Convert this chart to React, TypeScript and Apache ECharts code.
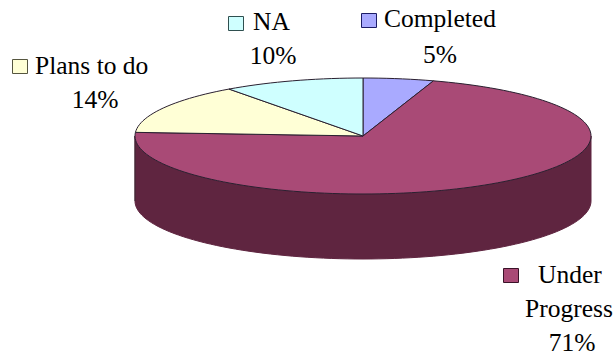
import React, { useEffect, useRef } from "react";
import * as echarts from "echarts";

// Project status breakdown, drawn as a tilted pie with a solid rim.
const categories = ["Completed", "Under Progress", "Plans to do", "NA"];
const values = [5, 71, 14, 10];
const topColors = ["#A9AAFF", "#A94A76", "#FFFFD6", "#CFFFFF"];
const rimColors = ["#55557F", "#5F2540", "#7F7F6B", "#67807F"];
const keyBorders = ["#1C1C66", "#3A1228", "#55553F", "#2F4F4F"];

// Tilted disc geometry, in pixels.
const CX = 363;
const CY = 136;
const RX = 228;
const RY = 58;
const DEPTH = 65;
const FONT = '"Liberation Serif", "Times New Roman", serif';
const FONT_SIZE = 25.5;

// Where each slice's key square and text lines sit.
const labelLayouts = [
  { key: [361, 13], lines: [[384, 18, "left"], [440, 54, "center"]] },
  { key: [503, 268], lines: [[538, 274, "left"], [569, 308, "center"], [572, 342, "center"]] },
  { key: [12, 59], lines: [[35, 65, "left"], [95, 99, "center"]] },
  { key: [228, 16], lines: [[253, 21, "left"], [273, 55, "center"]] },
];

const toRad = (d: number) => (d * Math.PI) / 180;
const topPoint = (deg: number, drop = 0): number[] => [
  CX + RX * Math.sin(toRad(deg)),
  CY - RY * Math.cos(toRad(deg)) + drop,
];

function arcPoints(from: number, to: number, drop = 0): number[][] {
  const steps = Math.max(2, Math.ceil((to - from) / 2));
  const pts: number[][] = [];
  for (let i = 0; i <= steps; i++) pts.push(topPoint(from + ((to - from) * i) / steps, drop));
  return pts;
}

function textLines(index: number): string[] {
  const words = categories[index] === "Under Progress" ? categories[index].split(" ") : [categories[index]];
  return [...words, `${values[index]}%`];
}

function renderSlice(params: any, api: any) {
  const i = params.dataIndex;
  const total = values.reduce((a, b) => a + b, 0);
  const before = values.slice(0, i).reduce((a, b) => a + b, 0);
  const start = (before / total) * 360;
  const end = start + (api.value(0) / total) * 360;
  const children: any[] = [];

  // The rim is only visible along the near half of the disc.
  const rimFrom = Math.max(start, 90);
  const rimTo = Math.min(end, 270);
  if (rimTo > rimFrom) {
    children.push({
      type: "polygon",
      shape: { points: [...arcPoints(rimFrom, rimTo), ...arcPoints(rimFrom, rimTo, DEPTH).reverse()] },
      style: { fill: rimColors[i], stroke: rimColors[i], lineWidth: 1 },
    });
    if (end > 270) {
      children.push({
        type: "line",
        shape: { x1: CX - RX, y1: CY, x2: CX - RX, y2: CY + DEPTH },
        style: { stroke: "#3A2A33", lineWidth: 1 },
      });
    }
  }

  children.push({
    type: "polygon",
    shape: { points: [[CX, CY], ...arcPoints(start, end)] },
    style: { fill: topColors[i], stroke: "#2A2030", lineWidth: 1 },
  });

  const layout = labelLayouts[i];
  children.push({
    type: "rect",
    shape: { x: layout.key[0] + 0.5, y: layout.key[1] + 0.5, width: 15, height: 14 },
    style: { fill: topColors[i], stroke: keyBorders[i], lineWidth: 1 },
  });
  textLines(i).forEach((line, n) => {
    const [x, y, align] = layout.lines[n] as [number, number, string];
    children.push({
      type: "text",
      x,
      y,
      style: {
        text: line,
        font: `${FONT_SIZE}px ${FONT}`,
        fill: "#000000",
        align,
        verticalAlign: "middle",
      },
    });
  });

  return { type: "group", children };
}

export default function App() {
  const ref = useRef<HTMLDivElement>(null);
  useEffect(() => {
    document.body.style.margin = "0";
    const chart = echarts.init(ref.current, null, { renderer: "svg" });
    chart.setOption({
      animation: false,
      backgroundColor: "#FFFFFF",
      series: [
        {
          type: "custom",
          coordinateSystem: "none",
          renderItem: renderSlice,
          data: values.map((v, i) => ({ name: categories[i], value: [v] })),
        },
      ],
    });
    return () => chart.dispose();
  }, []);
  return <div ref={ref} style={{ width: 616, height: 355 }} />;
}
